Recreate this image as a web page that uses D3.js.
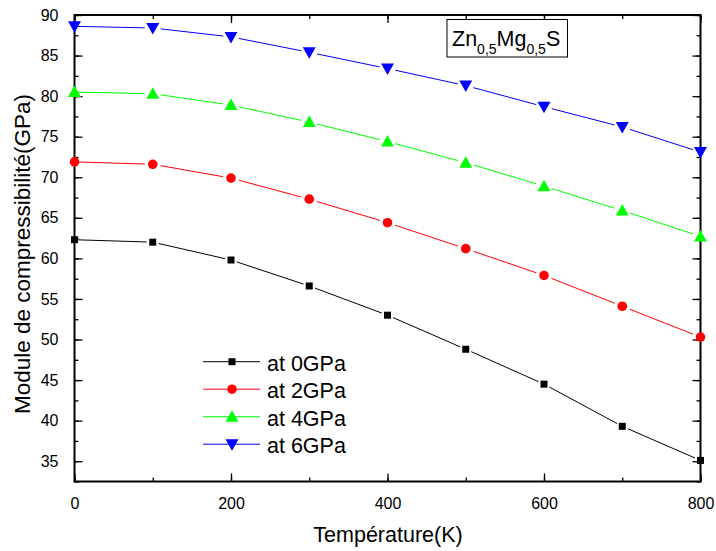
<!DOCTYPE html>
<html><head><meta charset="utf-8">
<script src="https://cdn.jsdelivr.net/npm/d3@7/dist/d3.min.js"></script>
<style>body{margin:0;background:#fff;} text{font-family:"Liberation Sans",Arial,sans-serif;}</style>
</head><body>
<svg id="c" width="716" height="551"></svg>
<script>
const temps = [0,100,200,300,400,500,600,700,800];
const s0GPa = [62.3,62.0,59.8,56.6,53.0,48.8,44.5,39.3,35.1];
const s2GPa = [71.9,71.6,69.9,67.3,64.4,61.2,57.9,54.1,50.3];
const s4GPa = [80.5,80.3,78.9,76.8,74.4,71.8,68.9,65.9,62.7];
const s6GPa = [88.6,88.4,87.3,85.4,83.4,81.3,78.7,76.2,73.1];
const seriesNames = ["at 0GPa","at 2GPa","at 4GPa","at 6GPa"];
const xTicks = [0,200,400,600,800];
const yTicks = [35,40,45,50,55,60,65,70,75,80,85,90];

const colors = ["#000000","#ff0000","#00ff00","#0000ff"];
const shapes = ["square","circle","triUp","triDown"];
const allSeries = [s0GPa,s2GPa,s4GPa,s6GPa];

const L=74.5, R=700.5, T=15, B=481.5;
const x = d3.scaleLinear().domain([0,800]).range([L,R]);
const y = d3.scaleLinear().domain([32.5,90]).range([B,T]);
const svg = d3.select("#c");

const g = svg.append("g");
function drawAxis(axis, transform){
  const a = g.append("g").attr("transform",transform).call(axis);
  a.select(".domain").remove();
  a.selectAll("line").attr("stroke","#000").attr("stroke-width",1.3);
  return a;
}
const yMinor = d3.range(32.5,90.01,2.5);
const xMinor = d3.range(0,801,100);
drawAxis(d3.axisLeft(y).tickValues(yMinor).tickSize(-4).tickFormat(""), `translate(${L},0)`);
const ya = drawAxis(d3.axisLeft(y).tickValues(yTicks).tickSize(-8).tickPadding(16).tickFormat(d3.format("d")), `translate(${L},0)`);
ya.selectAll("text").attr("font-size",16).attr("fill","#000");
drawAxis(d3.axisRight(y).tickValues(yMinor).tickSize(-4).tickFormat(""), `translate(${R},0)`);
drawAxis(d3.axisRight(y).tickValues(yTicks).tickSize(-8).tickFormat(""), `translate(${R},0)`);
drawAxis(d3.axisBottom(x).tickValues(xMinor).tickSize(-4).tickFormat(""), `translate(0,${B})`);
const xa = drawAxis(d3.axisBottom(x).tickValues(xTicks).tickSize(-8).tickPadding(16).tickFormat(d3.format("d")), `translate(0,${B})`);
xa.selectAll("text").attr("font-size",16).attr("fill","#000");
drawAxis(d3.axisTop(x).tickValues(xMinor).tickSize(-4).tickFormat(""), `translate(0,${T})`);
drawAxis(d3.axisTop(x).tickValues(xTicks).tickSize(-8).tickFormat(""), `translate(0,${T})`);
g.append("rect").attr("x",L).attr("y",T).attr("width",R-L).attr("height",B-T)
 .attr("fill","none").attr("stroke","#000").attr("stroke-width",2);

function marker(sel, shape, color, cx, cy){
  if(shape==="square") sel.append("rect").attr("x",cx-3.5).attr("y",cy-3.5).attr("width",7).attr("height",7).attr("fill",color);
  else if(shape==="circle") sel.append("circle").attr("cx",cx).attr("cy",cy).attr("r",4.8).attr("fill",color);
  else if(shape==="triUp") sel.append("path").attr("d",`M${cx},${cy-6.5}L${cx+6.5},${cy+5}L${cx-6.5},${cy+5}Z`).attr("fill",color);
  else sel.append("path").attr("d",`M${cx},${cy+6.5}L${cx+6.5},${cy-5}L${cx-6.5},${cy-5}Z`).attr("fill",color);
}

const plot = svg.append("g");
allSeries.forEach((vals,si)=>{
  const gap = si===0?6:8;
  const pts = temps.map((t,i)=>[x(t),y(vals[i])]);
  for(let i=0;i<pts.length-1;i++){
    const [x1,y1]=pts[i],[x2,y2]=pts[i+1];
    const dx=x2-x1, dy=y2-y1, len=Math.hypot(dx,dy);
    const ux=dx/len, uy=dy/len;
    const g0 = i===0?0:gap;
    plot.append("line").attr("x1",x1+ux*g0).attr("y1",y1+uy*g0)
      .attr("x2",x2-ux*gap).attr("y2",y2-uy*gap)
      .attr("stroke",colors[si]).attr("stroke-width",1);
  }
  pts.forEach(p=>marker(plot,shapes[si],colors[si],p[0],p[1]));
});

const leg = svg.append("g");
seriesNames.forEach((n,i)=>{
  const ly = 361.7 + i*27.5;
  leg.append("line").attr("x1",203).attr("x2",260).attr("y1",ly).attr("y2",ly).attr("stroke",colors[i]).attr("stroke-width",1);
  marker(leg,shapes[i],colors[i],232,ly);
  leg.append("text").attr("x",267).attr("y",ly+9).attr("font-size",21.5).text(n);
});

svg.append("rect").attr("x",447).attr("y",19.5).attr("width",120.5).attr("height",37.5).attr("fill","#fff").attr("stroke","#000").attr("stroke-width",1);
const lab = svg.append("text").attr("x",452).attr("y",46).attr("font-size",21.5);
lab.append("tspan").text("Zn");
lab.append("tspan").attr("font-size",14).attr("dy",8).text("0,5");
lab.append("tspan").attr("dy",-8).text("Mg");
lab.append("tspan").attr("font-size",14).attr("dy",8).text("0,5");
lab.append("tspan").attr("dy",-8).text("S");

svg.append("text").attr("x",388).attr("y",542).attr("text-anchor","middle").attr("font-size",21.5).text("Température(K)");
svg.append("text").attr("transform","translate(30,254) rotate(-90)").attr("text-anchor","middle").attr("font-size",22.5).text("Module de compressibilité(GPa)");
</script>
</body></html>
